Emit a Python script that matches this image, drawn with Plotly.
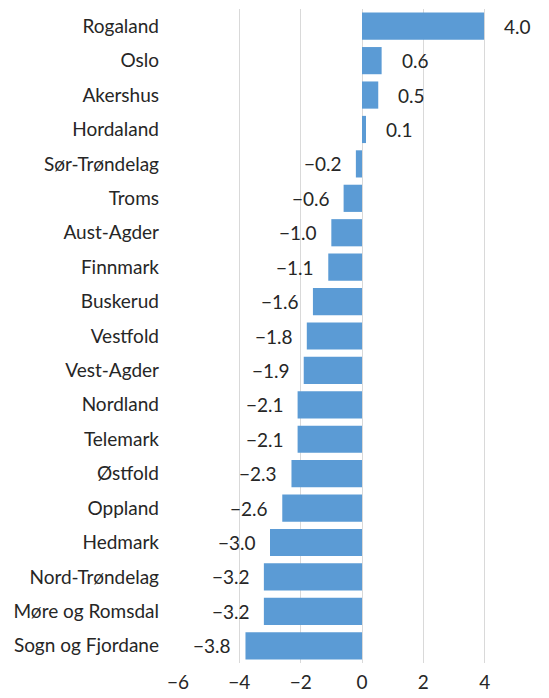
import plotly.graph_objects as go

regions = ["Rogaland", "Oslo", "Akershus", "Hordaland", "Sør-Trøndelag", "Troms",
           "Aust-Agder", "Finnmark", "Buskerud", "Vestfold", "Vest-Agder", "Nordland",
           "Telemark", "Østfold", "Oppland", "Hedmark", "Nord-Trøndelag",
           "Møre og Romsdal", "Sogn og Fjordane"]
values = [3.98, 0.64, 0.53, 0.13, -0.2, -0.6, -1.0, -1.1, -1.6, -1.8, -1.9, -2.1,
          -2.1, -2.3, -2.6, -3.0, -3.2, -3.2, -3.8]
labels = ["4.0", "0.6", "0.5", "0.1", "−0.2", "−0.6", "−1.0", "−1.1", "−1.6", "−1.8",
          "−1.9", "−2.1", "−2.1", "−2.3", "−2.6", "−3.0", "−3.2", "−3.2", "−3.8"]
x_ticks = [-6, -4, -2, 0, 2, 4, 6]
x_tick_text = ["−6", "−4", "−2", "0", "2", "4", "6"]

FONT = "Lato"
FS = 19
TXT = "#262626"

fig = go.Figure(go.Bar(
    y=regions, x=values, orientation="h",
    marker=dict(color="#5B9BD5", line=dict(width=0)),
    width=0.79,
))

for r, v, t in zip(regions, values, labels):
    fig.add_annotation(
        x=v, y=r, text=t, showarrow=False,
        xanchor="left" if v >= 0 else "right",
        xshift=18 if v >= 0 else -12,
        font=dict(family=FONT, size=FS, color=TXT),
    )

# page body has an 8px margin, so the figure is sized to fit the window
fig.update_layout(
    width=541, height=690,
    margin=dict(l=170, r=3, t=1, b=35),
    plot_bgcolor="white", paper_bgcolor="white",
    showlegend=False,
    font=dict(family=FONT, size=FS, color=TXT),
    xaxis=dict(range=[-6, 6], tickvals=x_ticks, ticktext=x_tick_text,
               showgrid=True, gridcolor="#d9d9d9", gridwidth=1,
               zeroline=True, zerolinecolor="#d9d9d9", zerolinewidth=1,
               showline=False, ticks="", ticklabelstandoff=6, automargin=False,
               ticklabeloverflow="allow",
               tickfont=dict(family=FONT, size=FS, color=TXT)),
    yaxis=dict(autorange="reversed", showgrid=False, showline=False,
               ticks="", ticklabelstandoff=18, automargin=False,
               tickfont=dict(family=FONT, size=FS, color=TXT)),
)

fig.write_html("out.html")
